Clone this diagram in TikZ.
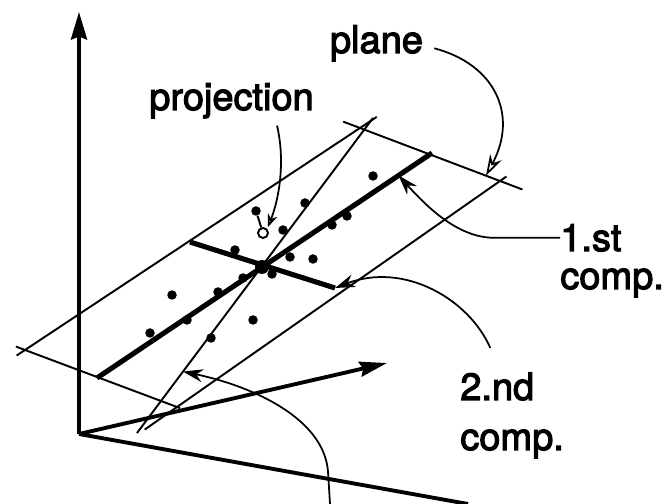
\documentclass[tikz,border=0pt]{standalone}
\usepackage{fontspec}
\newfontfamily\lblfont[FakeBold=3]{TeX Gyre Heros}
\usetikzlibrary{arrows.meta,calc}
\begin{document}
\begin{tikzpicture}[
    axis/.style={line width=2.2pt},
    edge/.style={line width=1.1pt},
    comp/.style={line width=2.9pt},
    ptr/.style={line width=1pt},
    lbl/.style={font=\lblfont\fontsize{21.6}{26}\selectfont, inner sep=0pt},
    tipfill/.style={-{Stealth[length=0.4cm,width=0.26cm]}},
    tipopen/.style={-{Stealth[open,length=0.42cm,width=0.26cm]}}]
    \useasboundingbox (-1.58,-1.40) rectangle (11.82,8.68);
    % Axes
    \coordinate (O) at (0,0);
    \draw[axis, -{Stealth[length=0.55cm,width=0.32cm,inset=0.06cm]}] (O) -- (0,8.44);
    \draw[axis, -{Stealth[length=0.55cm,width=0.3cm,inset=0.06cm]}] (O) -- (6.16,1.42);
    \draw[axis] (O) -- (7.78,-1.40);
    % Plane corners
    \coordinate (A) at (-1.08,1.68);
    \coordinate (B) at (5.62,6.12);
    \coordinate (C) at (8.42,5.06);
    \coordinate (D) at (1.96,0.54);
    % Plane edges, drawn a bit past the corners
    \draw[edge] ($(A)!-0.025!(B)$) -- ($(A)!1.05!(B)$);
    \draw[edge] ($(B)!-0.12!(C)$) -- ($(B)!1.16!(C)$);
    \draw[edge] ($(C)!-0.02!(D)$) -- ($(C)!1.1!(D)$);
    \draw[edge] ($(D)!-0.02!(A)$) -- ($(D)!1.06!(A)$);
    % Thin line through the mean
    \coordinate (l1a) at (1.16,0.02);
    \coordinate (l1b) at (5.88,6.32);
    \draw[edge] (l1a) -- (l1b);
    % Principal components
    \coordinate (M) at (3.66,3.34);
    \coordinate (c1a) at (0.36,1.12);
    \coordinate (c1b) at (7.06,5.62);
    \coordinate (c2a) at (2.22,3.84);
    \coordinate (c2b) at (5.12,2.92);
    \draw[comp] (c1a) -- (c1b);
    \draw[comp] (c2a) -- (c2b);
    \fill (M) circle (0.14);
    % Data points
    \foreach \x/\y in {5.88/5.16, 5.36/4.36, 5.06/4.18, 4.52/4.62, 4.08/4.08,
        4.68/3.50, 4.22/3.54, 3.12/3.68, 3.28/3.12, 2.78/2.84, 1.86/2.78,
        1.42/2.02, 2.16/2.28, 2.64/1.92, 3.48/2.28, 3.86/3.20}
        \fill (\x,\y) circle (0.095);
    % Point and its projection
    \node[circle, fill, inner sep=0pt, minimum size=0.19cm] (dp) at (3.54,4.46) {};
    \node[circle, draw, edge, inner sep=0pt, minimum size=0.2cm] (pc) at (3.68,4.02) {};
    \draw[edge] (dp) -- (pc);
    % Labels
    \node[lbl, anchor=base] (plane) at (5.95,7.62) {plane};
    \node[lbl, anchor=base] (proj) at (3.05,6.48) {projection};
    \node[lbl, anchor=base west] (first) at (9.62,3.66) {1.st};
    \node[lbl, anchor=base west] (firstb) at (9.62,2.90) {comp.};
    \node[lbl, anchor=base west] (second) at (7.62,0.68) {2.nd};
    \node[lbl, anchor=base west] (secondb) at (7.62,-0.32) {comp.};
    % Pointers
    \coordinate (tpl) at ($(B)!0.9!(C)$);
    \coordinate (t1) at ($(c1a)!0.9!(c1b)$);
    \coordinate (t0) at ($(l1a)!0.195!(l1b)$);
    \coordinate (cut) at (5.02,-1.40);
    \draw[ptr, tipopen] ($(plane.east)+(0.22,-0.1)$)
        .. controls (8.3,7.4) and (8.8,6.4) .. (tpl);
    \draw[ptr, -{Stealth[open,length=0.26cm,width=0.2cm]}, shorten >=1pt]
        ($(proj.south)+(0.91,-0.14)$) .. controls (4.12,5.5) and (4.02,4.75) .. (pc.north east);
    \draw[ptr, tipfill] (first.west) -- ++(-1.3,0)
        .. controls (7.6,3.92) and (7.0,4.5) .. (t1);
    \draw[ptr, tipfill] ($(second.north)+(-0.14,0.48)$)
        .. controls (7.8,2.7) and (6.5,3.45) .. (c2b);
    \draw[ptr, tipfill] (cut) -- (4.98,-0.75)
        .. controls (4.9,0.3) and (3.5,0.95) .. (t0);
\end{tikzpicture}
\end{document}
